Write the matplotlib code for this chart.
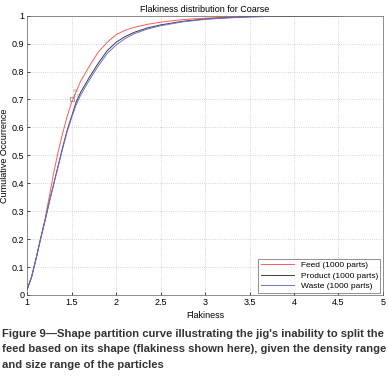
import numpy as np
import matplotlib.pyplot as plt

plt.rcParams['font.family'] = ['Liberation Sans', 'DejaVu Sans']

# datos
feed_x = [1.0, 1.05, 1.1, 1.15, 1.2, 1.25, 1.3, 1.35, 1.4, 1.45, 1.5, 1.6, 1.7, 1.8, 1.9,
          2.0, 2.1, 2.2, 2.35, 2.5, 2.75, 3.0, 3.25, 3.5, 4.0, 4.5]
feed_y = [0.02, 0.065, 0.13, 0.20, 0.27, 0.355, 0.44, 0.515, 0.58, 0.64, 0.69, 0.765, 0.82, 0.87, 0.905,
          0.932, 0.948, 0.958, 0.969, 0.977, 0.986, 0.991, 0.995, 0.997, 0.999, 1.0]
prod_x = [1.0, 1.05, 1.1, 1.15, 1.2, 1.25, 1.3, 1.35, 1.4, 1.45, 1.5, 1.55, 1.6, 1.7, 1.8, 1.9,
          2.0, 2.1, 2.2, 2.35, 2.5, 2.75, 3.0, 3.25, 3.5, 4.0, 4.56]
prod_y = [0.02, 0.065, 0.13, 0.20, 0.265, 0.335, 0.40, 0.465, 0.53, 0.59, 0.64, 0.69, 0.725, 0.78, 0.83, 0.875,
          0.905, 0.925, 0.94, 0.956, 0.967, 0.98, 0.988, 0.993, 0.996, 0.999, 1.0]
waste_x = [1.0, 1.05, 1.1, 1.15, 1.2, 1.25, 1.3, 1.35, 1.4, 1.45, 1.5, 1.55, 1.6, 1.7, 1.8, 1.9,
           2.0, 2.1, 2.2, 2.35, 2.5, 2.75, 3.0, 3.25, 3.5, 4.0, 4.5]
waste_y = [0.02, 0.065, 0.13, 0.20, 0.265, 0.333, 0.398, 0.462, 0.525, 0.585, 0.635, 0.68, 0.715, 0.77, 0.82, 0.865,
           0.895, 0.918, 0.935, 0.952, 0.964, 0.978, 0.987, 0.992, 0.996, 0.999, 1.0]

caption = ("Figure 9\u2014Shape partition curve illustrating the jig's inability to split the\n"
           "feed based on its shape (flakiness shown here), given the density range\n"
           "and size range of the particles")

fig = plt.figure(figsize=(3.88, 3.82), dpi=100)
ax = fig.add_axes([0.07, 1 - 295/382, 0.917, (295 - 15.7)/382])

ax.plot(feed_x, feed_y, color='#ff5a5a', lw=0.7, label='Feed (1000 parts)')
ax.plot(prod_x, prod_y, color='#3a3a4a', lw=0.7, label='Product (1000 parts)')
ax.plot(waste_x, waste_y, color='#7070c8', lw=0.7, label='Waste (1000 parts)')

# cursor de datos
ax.plot([1.5], [0.7], marker='s', ms=3, mfc='none', mec='#808080', mew=0.5)
ax.text(1.52, 0.705, 'X:1.5\nY:0.7', fontsize=2, color='#808080', va='bottom')

ax.set_xlim(1, 5)
ax.set_ylim(0, 1)
ax.set_xticks(np.arange(1, 5.01, 0.5))
ax.set_xticklabels(['1', '1.5', '2', '2.5', '3', '3.5', '4', '4.5', '5'])
ax.set_yticks(np.arange(0, 1.01, 0.1))
ax.set_yticklabels(['0', '0.1', '0.2', '0.3', '0.4', '0.5', '0.6', '0.7', '0.8', '0.9', '1'])
ax.tick_params(direction='in', labelsize=6.5, length=2, width=0.5, pad=2)
ax.grid(True, linestyle=':', color='#c8c8c8', lw=0.6)
for s in ax.spines.values():
    s.set_linewidth(0.5)
    s.set_color('#606060')

ax.set_title('Flakiness distribution for Coarse', fontsize=6.5, pad=3)
ax.set_xlabel('Flakiness', fontsize=6.5, labelpad=3)
ax.set_ylabel('Cumulative Occurrence', fontsize=6.5, labelpad=2)

leg = ax.legend(loc='lower right', fontsize=6, frameon=True, fancybox=False,
                edgecolor='#404040', handlelength=4, borderpad=0.3, labelspacing=0.3,
                borderaxespad=0.3)
leg.get_frame().set_linewidth(0.5)

fig.text(0.005, 0.032, caption, fontsize=8.1, fontweight='bold', color='#333333',
         va='bottom', ha='left', linespacing=1.68)

fig.savefig('out.png', dpi=100)
